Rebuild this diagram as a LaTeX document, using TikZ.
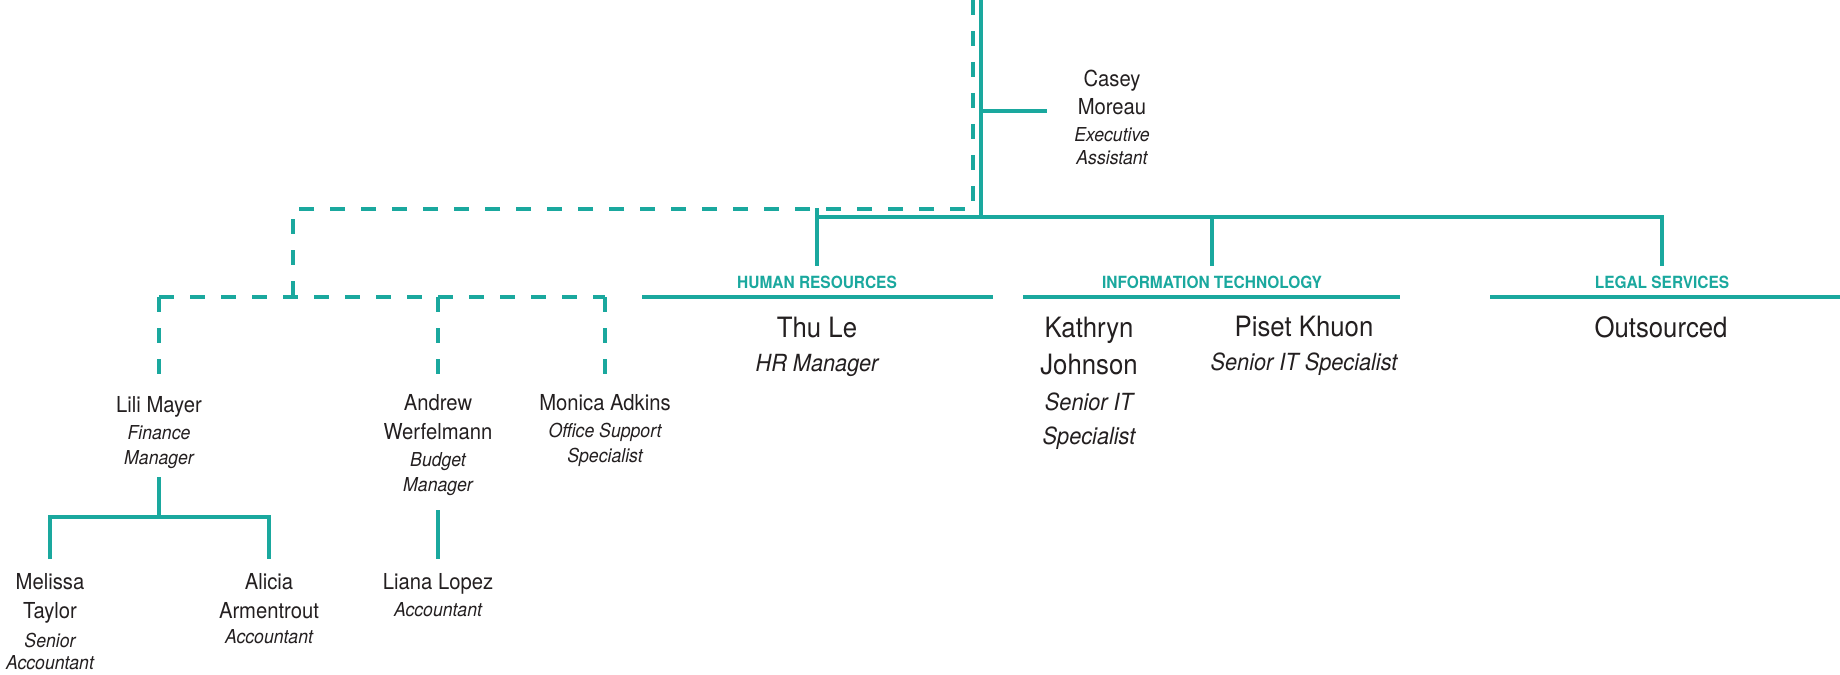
\documentclass[tikz,border=0pt]{standalone}
\usepackage{fontspec}
\setmainfont[FakeStretch=0.92]{TeX Gyre Heros}
\usepackage{tikz}
\usetikzlibrary{calc}
\definecolor{teal1}{HTML}{1AA89E}
\definecolor{ink}{HTML}{231F20}
\newcommand{\role}[1]{{\itshape\fontsize{9.6}{12}\selectfont #1}}
\newcommand{\bigrole}[1]{{\itshape\fontsize{11.8}{15}\selectfont #1}}

\begin{document}
\begin{tikzpicture}[x=0.5pt,y=-0.5pt,
    link/.style={draw=teal1,line width=2pt},
    dlink/.style={link,dash pattern=on 7.5pt off 8pt},
    person/.style={align=center,inner sep=0pt,anchor=north,text=ink,
      font=\fontsize{11}{12.5}\selectfont},
    lead/.style={person,font=\fontsize{14}{17}\selectfont},
    dept/.style={anchor=base,inner sep=0pt,text=teal1,
      font=\bfseries\fontsize{8.4}{10}\selectfont}]
  \useasboundingbox (0,0) rectangle (1840,674);

  % people
  \node[person] (casey) at (1112,70) {Casey\\[1.5pt]Moreau\\[1pt]\role{Executive}\\[-1pt]\role{Assistant}};
  \node[person] (lili) at (159,396) {Lili Mayer\\[1pt]\role{Finance}\\\role{Manager}};
  \node[person] (andrew) at (438,394) {Andrew\\[2pt]Werfelmann\\[1pt]\role{Budget}\\\role{Manager}};
  \node[person] (monica) at (605,394) {Monica Adkins\\[1pt]\role{Office Support}\\\role{Specialist}};
  \node[person] (melissa) at (50,573) {Melissa\\[2pt]Taylor\\[2pt]\role{Senior}\\[-1.5pt]\role{Accountant}};
  \node[person] (alicia) at (269,573) {Alicia\\[2pt]Armentrout\\\role{Accountant}};
  \node[person] (liana) at (438,573) {Liana Lopez\\[1pt]\role{Accountant}};
  \node[lead] (thule) at (817,317) {Thu Le\\\bigrole{HR Manager}};
  \node[lead] (kathryn) at (1089,317) {Kathryn\\[1.5pt]Johnson\\[1pt]\bigrole{Senior IT}\\\bigrole{Specialist}};
  \node[lead] (piset) at (1304,316) {Piset Khuon\\\bigrole{Senior IT Specialist}};
  \node[lead] (outsrc) at (1661,316) {Outsourced};

  % departments
  \node[dept] (hr) at (817,288) {HUMAN RESOURCES};
  \node[dept] (it) at (1212,288) {INFORMATION TECHNOLOGY};
  \node[dept] (legal) at (1662,288) {LEGAL SERVICES};
  \draw[link] (642,297) -- (993,297);
  \draw[link] (1023,297) -- (1400,297);
  \draw[link] (1490,297) -- (1840,297);

  % solid reporting lines
  \coordinate (top) at (981,0);
  \coordinate (bar) at (981,217);
  \coordinate (ea) at (981,111);
  \draw[link] (top) -- (bar);
  \draw[link] (ea) -- ([xshift=-13.5pt]casey.west |- ea);
  \draw[link] ([yshift=4.5pt]hr.north |- bar) -- ([yshift=4.5pt]hr.north)
    (bar) -| ([yshift=4.5pt]it.north)
    (bar) -| ([yshift=4.5pt]legal.north);
  \draw[link] (hr.north |- bar) -- (bar);

  % dotted-line reports
  \coordinate (dtop) at (973,0);
  \coordinate (dturn) at (293,209);
  \coordinate (dbar) at (293,297);
  \draw[dlink] (dtop) |- (dturn) -- (dbar);
  \draw[dlink] (lili.north |- dbar) -- (monica.north |- dbar);
  \foreach \p in {lili,andrew,monica}
    \draw[dlink] (\p.north |- dbar) -- ([yshift=9.5pt]\p.north);

  % finance team
  \coordinate (fbar) at (159,517);
  \draw[link] ([yshift=-4pt]lili.south) -- (fbar);
  \draw[link] ([yshift=7pt]melissa.north) |- (fbar) -| ([yshift=7pt]alicia.north);
  \draw[link] ([yshift=-7pt]andrew.south) -- ([yshift=7pt]liana.north);
\end{tikzpicture}
\end{document}
